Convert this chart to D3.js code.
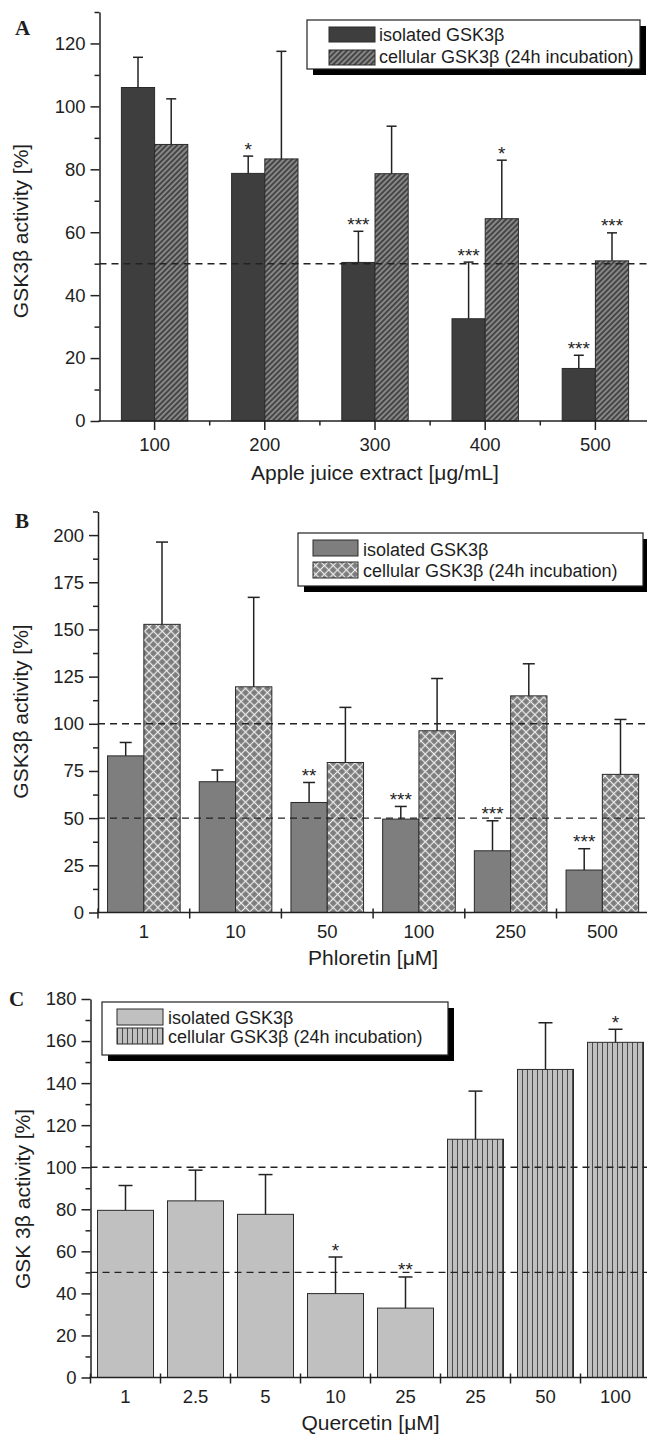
<!DOCTYPE html>
<html>
<head>
<meta charset="utf-8">
<script src="https://cdn.jsdelivr.net/npm/d3@7"></script>
<style>
  body { margin: 0; background: #fff; }
  svg text { font-family: "Liberation Sans", Arial, sans-serif; fill: #1e1e1e; }
</style>
</head>
<body>
<svg id="fig" width="647" height="1441"></svg>
<script>
// ---- data ----
const legendLabels = ['isolated GSK3β', 'cellular GSK3β (24h incubation)'];

// A: apple juice extract
const appleDoses = ['100', '200', '300', '400', '500'];
const appleIsolated = [106.0, 78.7, 50.4, 32.5, 16.7];
const appleIsolatedErr = [9.6, 5.5, 9.9, 18.0, 4.2];
const appleIsolatedSig = ['', '*', '***', '***', '***'];
const appleCellular = [87.9, 83.3, 78.6, 64.3, 50.9];
const appleCellularErr = [14.5, 34.2, 15.1, 18.6, 8.9];
const appleCellularSig = ['', '', '', '*', '***'];
const appleYTicks = [0, 20, 40, 60, 80, 100, 120];
const appleRefLines = [50];

// B: phloretin
const phloretinDoses = ['1', '10', '50', '100', '250', '500'];
const phloretinIsolated = [83.0, 69.3, 58.3, 49.5, 32.7, 22.5];
const phloretinIsolatedErr = [7.1, 6.2, 10.6, 6.7, 15.9, 11.3];
const phloretinIsolatedSig = ['', '', '**', '***', '***', '***'];
const phloretinCellular = [152.7, 119.6, 79.5, 96.3, 114.8, 73.2];
const phloretinCellularErr = [43.6, 47.4, 29.2, 27.7, 17.0, 29.1];
const phloretinCellularSig = ['', '', '', '', '', ''];
const phloretinYTicks = [0, 25, 50, 75, 100, 125, 150, 175, 200];
const phloretinRefLines = [50, 100];

// C: quercetin (first five isolated, last three cellular)
const quercetinDoses = ['1', '2.5', '5', '10', '25', '25', '50', '100'];
const quercetinType = ['isolated', 'isolated', 'isolated', 'isolated', 'isolated', 'cellular', 'cellular', 'cellular'];
const quercetinValues = [79.5, 84.0, 77.6, 39.9, 33.0, 113.3, 146.5, 159.4];
const quercetinErr = [11.8, 14.6, 18.9, 17.4, 14.8, 22.9, 22.2, 6.2];
const quercetinSig = ['', '', '', '*', '**', '', '', '*'];
const quercetinYTicks = [0, 20, 40, 60, 80, 100, 120, 140, 160, 180];
const quercetinRefLines = [50, 100];

// ---- patterns ----
const svg = d3.select('#fig');
const defs = svg.append('defs');

const hatchA = defs.append('pattern')
  .attr('id', 'hatchA').attr('patternUnits', 'userSpaceOnUse')
  .attr('width', 3.8).attr('height', 3.8)
  .attr('patternTransform', 'rotate(45)');
hatchA.append('rect').attr('width', 3.8).attr('height', 3.8).attr('fill', '#454545');
hatchA.append('line').attr('x1', 1.9).attr('y1', 0).attr('x2', 1.9).attr('y2', 3.8)
  .attr('stroke', '#d2d2d2').attr('stroke-width', 0.9);

const crossB = defs.append('pattern')
  .attr('id', 'crossB').attr('patternUnits', 'userSpaceOnUse')
  .attr('width', 6.2).attr('height', 6.2)
  .attr('patternTransform', 'rotate(45)');
crossB.append('rect').attr('width', 6.2).attr('height', 6.2).attr('fill', '#7c7c7c');
crossB.append('line').attr('x1', 3.1).attr('y1', 0).attr('x2', 3.1).attr('y2', 6.2)
  .attr('stroke', '#ededed').attr('stroke-width', 1.2);
crossB.append('line').attr('x1', 0).attr('y1', 3.1).attr('x2', 6.2).attr('y2', 3.1)
  .attr('stroke', '#ededed').attr('stroke-width', 1.2);

const stripeC = defs.append('pattern')
  .attr('id', 'stripeC').attr('patternUnits', 'userSpaceOnUse')
  .attr('width', 5).attr('height', 10);
stripeC.append('rect').attr('width', 5).attr('height', 10).attr('fill', '#c0c0c0');
stripeC.append('line').attr('x1', 2.5).attr('y1', 0).attr('x2', 2.5).attr('y2', 10)
  .attr('stroke', '#4a4a4a').attr('stroke-width', 1);

function grouped(doses, iso, isoErr, isoSig, cel, celErr, celSig) {
  return doses.flatMap((d, i) => [
    { i, s: 'isolated', v: iso[i], e: isoErr[i], sig: isoSig[i] },
    { i, s: 'cellular', v: cel[i], e: celErr[i], sig: celSig[i] }
  ]);
}

const panels = [
  {
    letter: 'A', letterPos: [15, 35],
    left: 99.5, right: 650.5, top: 12, bottom: 421, yMax: 130,
    yTicks: appleYTicks, yMinor: 10, refLines: appleRefLines,
    doses: appleDoses, series: ['isolated', 'cellular'], barW: 33.2, cap: 10,
    bars: grouped(appleDoses, appleIsolated, appleIsolatedErr, appleIsolatedSig,
      appleCellular, appleCellularErr, appleCellularSig),
    fills: { isolated: '#3e3e3e', cellular: 'url(#hatchA)' },
    xTickStyle: 'center', xLabelBase: 30,
    xTitle: 'Apple juice extract [μg/mL]', xTitleY: 480,
    yTitle: 'GSK3β activity [%]', yTitlePos: [28, 231],
    legend: { x: 307, y: 20, w: 333, h: 49, swX: 329, swW: 46, swH: 15, rows: [27, 50], textX: 379, base: [41, 63] }
  },
  {
    letter: 'B', letterPos: [15, 528],
    left: 98, right: 648.2, top: 511.5, bottom: 912.5, yMax: 212.5,
    yTicks: phloretinYTicks, yMinor: 12.5, refLines: phloretinRefLines,
    doses: phloretinDoses, series: ['isolated', 'cellular'], barW: 36.3, cap: 12,
    bars: grouped(phloretinDoses, phloretinIsolated, phloretinIsolatedErr, phloretinIsolatedSig,
      phloretinCellular, phloretinCellularErr, phloretinCellularSig),
    fills: { isolated: '#7e7e7e', cellular: 'url(#crossB)' },
    xTickStyle: 'bound', xLabelBase: 25,
    xTitle: 'Phloretin [μM]', xTitleY: 965,
    yTitle: 'GSK3β activity [%]', yTitlePos: [28, 711.5],
    legend: { x: 298, y: 533, w: 345, h: 53, swX: 313, swW: 45, swH: 16, rows: [540, 562], textX: 363, base: [555.5, 577] }
  },
  {
    letter: 'C', letterPos: [9, 1006],
    left: 90.5, right: 650.5, top: 999, bottom: 1377.5, yMax: 180,
    yTicks: quercetinYTicks, yMinor: 10, refLines: quercetinRefLines,
    doses: quercetinDoses, series: ['bar'], barW: 56, cap: 14,
    bars: quercetinDoses.map((d, i) => ({
      i, s: 'bar', type: quercetinType[i], v: quercetinValues[i], e: quercetinErr[i], sig: quercetinSig[i]
    })),
    fills: { isolated: '#c0c0c0', cellular: 'url(#stripeC)' },
    xTickStyle: 'bound', xLabelBase: 25,
    xTitle: 'Quercetin [μM]', xTitleY: 1430,
    yTitle: 'GSK 3β activity [%]', yTitlePos: [30, 1199],
    legend: { x: 102, y: 1002, w: 346, h: 53, swX: 117, swW: 46, swH: 16, rows: [1009, 1028], textX: 168, base: [1024, 1043] }
  }
];

function drawPanel(p) {
  const g = svg.append('g');
  const y = d3.scaleLinear().domain([0, p.yMax]).range([p.bottom, p.top]);
  const x0 = d3.scaleBand().domain(p.doses.map((d, i) => i)).range([p.left, p.right]).padding(0);
  const x1 = d3.scaleBand().domain(p.series).range([-p.barW * p.series.length / 2, p.barW * p.series.length / 2]);
  const cx = d => x0(d.i) + x0.bandwidth() / 2 + x1(d.s);
  const fillOf = d => p.fills[d.type || d.s];

  // bars
  g.append('g').selectAll('rect').data(p.bars).join('rect')
    .attr('x', cx)
    .attr('y', d => y(d.v))
    .attr('width', x1.bandwidth())
    .attr('height', d => y(0) - y(d.v))
    .attr('fill', fillOf)
    .attr('stroke', '#2a2a2a')
    .attr('stroke-width', 1);

  // error bars (upper only)
  const err = g.append('g').attr('stroke', '#222').attr('stroke-width', 1.5);
  err.selectAll('line.v').data(p.bars).join('line').attr('class', 'v')
    .attr('x1', d => cx(d) + x1.bandwidth() / 2).attr('x2', d => cx(d) + x1.bandwidth() / 2)
    .attr('y1', d => y(d.v)).attr('y2', d => y(d.v + d.e));
  err.selectAll('line.c').data(p.bars).join('line').attr('class', 'c')
    .attr('x1', d => cx(d) + x1.bandwidth() / 2 - p.cap / 2)
    .attr('x2', d => cx(d) + x1.bandwidth() / 2 + p.cap / 2)
    .attr('y1', d => y(d.v + d.e)).attr('y2', d => y(d.v + d.e));

  // significance stars
  g.append('g').selectAll('text').data(p.bars.filter(d => d.sig)).join('text')
    .attr('x', d => cx(d) + x1.bandwidth() / 2)
    .attr('y', d => y(d.v + d.e) - 0.5)
    .attr('text-anchor', 'middle')
    .style('font-size', '19px')
    .text(d => d.sig);

  // dashed reference lines
  g.append('g').selectAll('line').data(p.refLines).join('line')
    .attr('x1', p.left).attr('x2', 647)
    .attr('y1', d => y(d)).attr('y2', d => y(d))
    .attr('stroke', '#222').attr('stroke-width', 1.4)
    .attr('stroke-dasharray', '7,5');

  // y axis
  const minor = d3.range(0, p.yMax + 0.001, p.yMinor).filter(v => !p.yTicks.includes(v));
  g.append('g').attr('transform', `translate(${p.left},0)`)
    .call(d3.axisLeft(y).tickValues(minor).tickSize(5).tickFormat(''))
    .call(a => a.select('.domain').remove())
    .call(a => a.selectAll('line').attr('stroke', '#222').attr('stroke-width', 1.5));
  g.append('g').attr('transform', `translate(${p.left},0)`)
    .call(d3.axisLeft(y).tickValues(p.yTicks).tickSize(9).tickPadding(5).tickSizeOuter(0))
    .call(a => a.select('.domain').attr('stroke', '#222').attr('stroke-width', 1.5))
    .call(a => a.selectAll('line').attr('stroke', '#222').attr('stroke-width', 1.5))
    .call(a => a.selectAll('text').style('font-size', '18.5px').attr('fill', '#1e1e1e'));

  // x axis line and ticks
  g.append('line').attr('x1', p.left - 1).attr('x2', 647)
    .attr('y1', y(0)).attr('y2', y(0))
    .attr('stroke', '#222').attr('stroke-width', 1.5);
  const bounds = d3.range(p.doses.length + 1).map(i => p.left + i * x0.step());
  const ticks = g.append('g').attr('stroke', '#222').attr('stroke-width', 1.5);
  if (p.xTickStyle === 'center') {
    ticks.selectAll('line.maj').data(p.doses.map((d, i) => i)).join('line').attr('class', 'maj')
      .attr('x1', i => x0(i) + x0.bandwidth() / 2).attr('x2', i => x0(i) + x0.bandwidth() / 2)
      .attr('y1', y(0)).attr('y2', y(0) + 9);
    ticks.selectAll('line.min').data(bounds.slice(1)).join('line').attr('class', 'min')
      .attr('x1', d => d).attr('x2', d => d)
      .attr('y1', y(0)).attr('y2', y(0) + 4.5);
  } else {
    ticks.selectAll('line').data(bounds).join('line')
      .attr('x1', d => d).attr('x2', d => d)
      .attr('y1', y(0) - 4).attr('y2', y(0) + 6);
  }

  // x tick labels
  g.append('g').selectAll('text').data(p.doses).join('text')
    .attr('x', (d, i) => x0(i) + x0.bandwidth() / 2)
    .attr('y', y(0) + p.xLabelBase)
    .attr('text-anchor', 'middle')
    .style('font-size', '18.5px')
    .text(d => d);

  // axis titles
  g.append('text')
    .attr('x', (p.left + p.right) / 2).attr('y', p.xTitleY)
    .attr('text-anchor', 'middle')
    .style('font-size', '21px')
    .text(p.xTitle);
  g.append('text')
    .attr('transform', `translate(${p.yTitlePos[0]},${p.yTitlePos[1]}) rotate(-90)`)
    .attr('text-anchor', 'middle')
    .style('font-size', '21px')
    .text(p.yTitle);

  // panel letter
  g.append('text')
    .attr('x', p.letterPos[0]).attr('y', p.letterPos[1])
    .style('font-family', '"Liberation Serif", "Times New Roman", serif')
    .style('font-weight', 'bold')
    .style('font-size', '21px')
    .text(p.letter);

  // legend with drop shadow
  const L = p.legend;
  const leg = g.append('g');
  leg.append('rect').attr('x', L.x + 6).attr('y', L.y + 6).attr('width', L.w).attr('height', L.h)
    .attr('fill', '#000');
  leg.append('rect').attr('x', L.x).attr('y', L.y).attr('width', L.w).attr('height', L.h)
    .attr('fill', '#fff').attr('stroke', '#222').attr('stroke-width', 1.2);
  const legFills = [p.fills.isolated, p.fills.cellular];
  legendLabels.forEach((label, k) => {
    leg.append('rect').attr('x', L.swX).attr('y', L.rows[k]).attr('width', L.swW).attr('height', L.swH)
      .attr('fill', legFills[k]).attr('stroke', '#2a2a2a').attr('stroke-width', 1);
    leg.append('text').attr('x', L.textX).attr('y', L.base[k])
      .style('font-size', '18px')
      .text(label);
  });
}

panels.forEach(drawPanel);
</script>
</body>
</html>
